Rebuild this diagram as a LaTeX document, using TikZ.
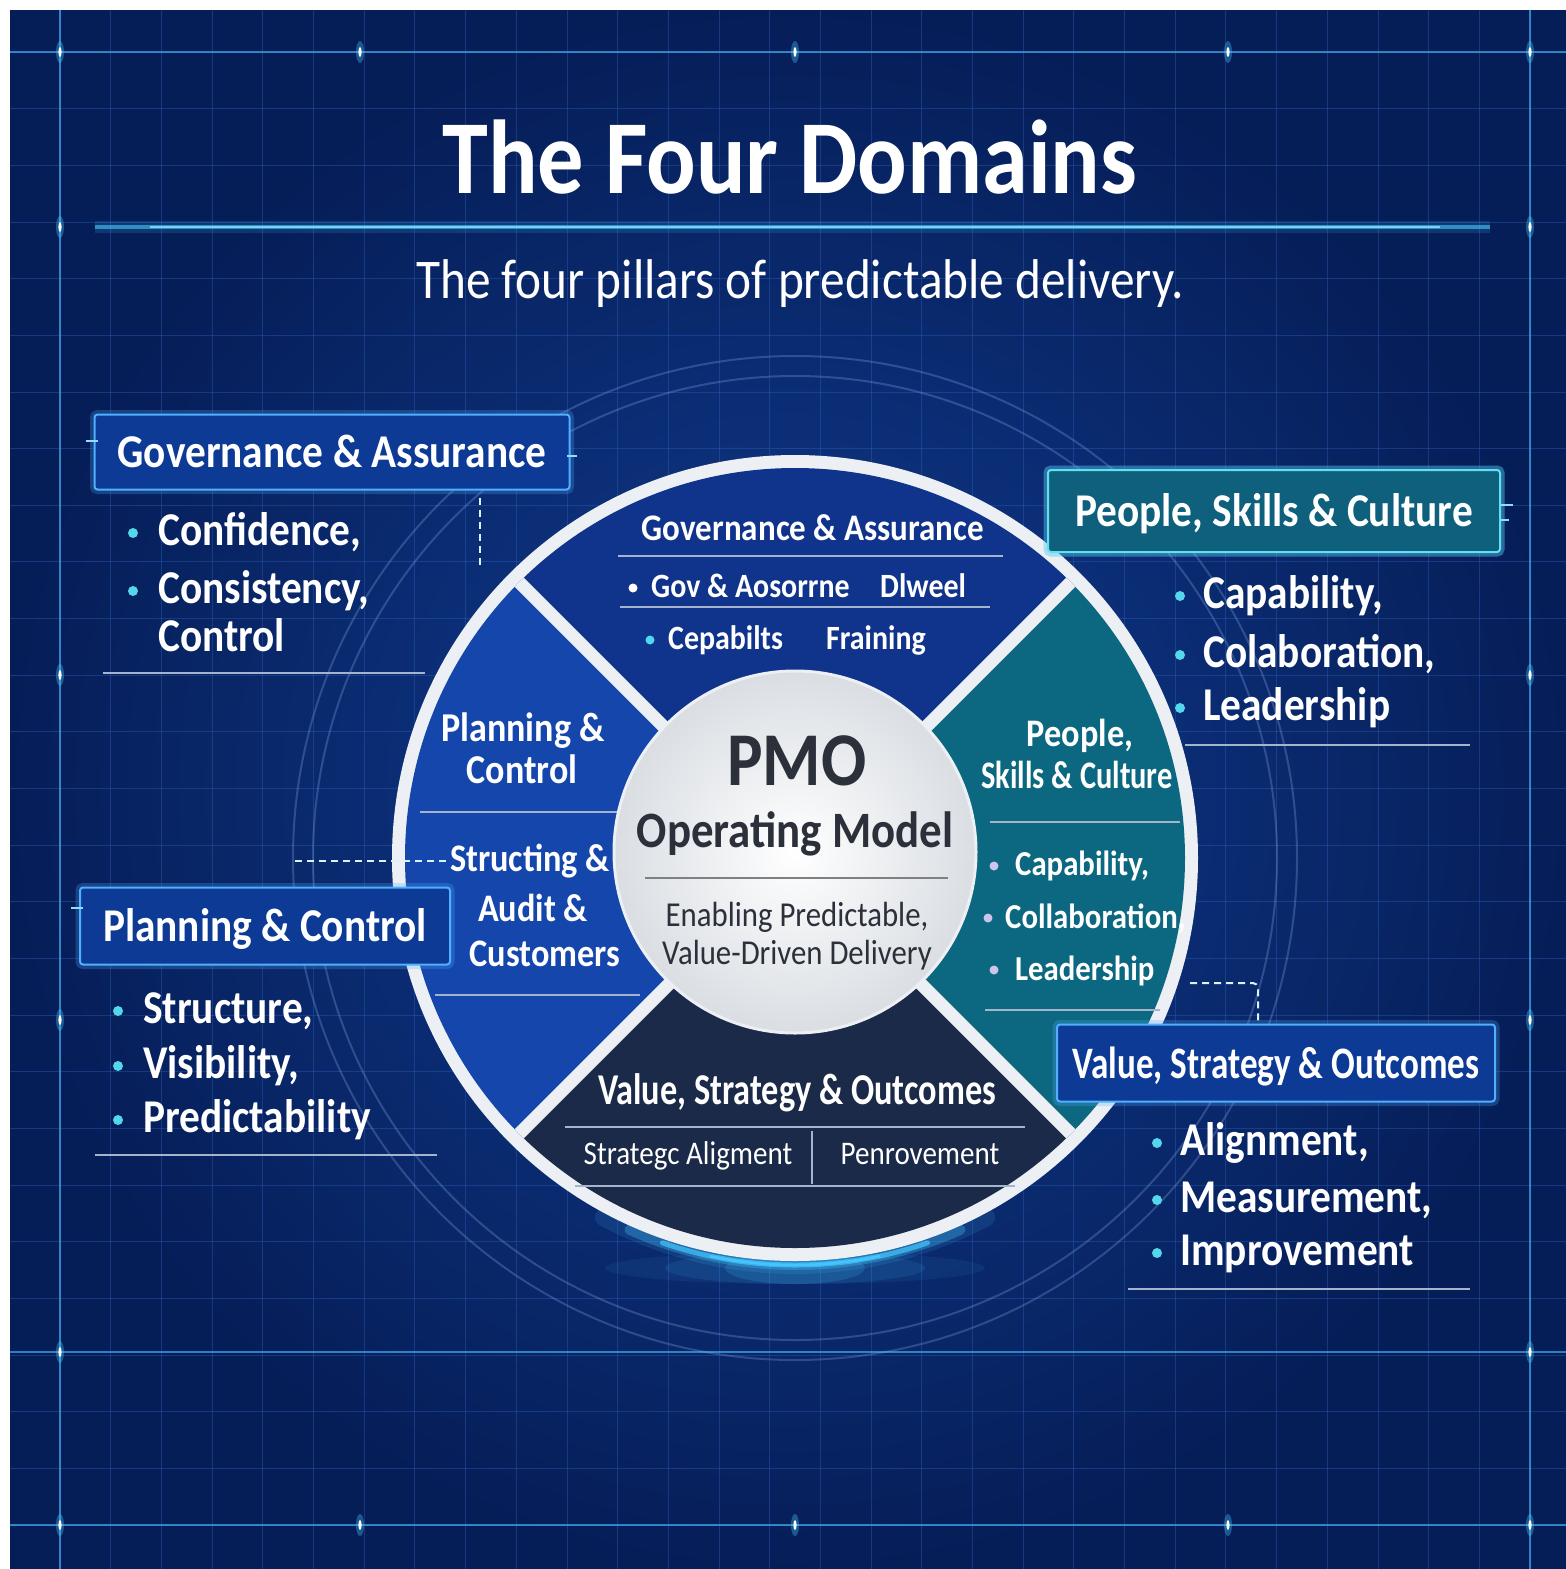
\documentclass[tikz,border=0pt]{standalone}
\usepackage{fontspec}
\setmainfont{Carlito}[FakeStretch=0.88]
\newfontfamily\condfont{Carlito}[FakeStretch=0.78]
\usepackage{tikz}
\usetikzlibrary{positioning,calc}
\definecolor{bgdark}   {RGB}{6,30,88}
\definecolor{bgmid}    {RGB}{16,60,145}
\definecolor{gridblue} {RGB}{50,105,200}
\definecolor{glowcyan} {RGB}{70,200,255}
\definecolor{segtop}   {RGB}{16,52,140}
\definecolor{segleft}  {RGB}{20,70,172}
\definecolor{segright} {RGB}{12,104,128}
\definecolor{segbottom}{RGB}{27,42,72}
\definecolor{ringwhite}{RGB}{236,239,243}
\definecolor{hubgray}  {RGB}{218,222,227}
\definecolor{hubtext}  {RGB}{44,48,58}
\definecolor{boxblue}  {RGB}{12,58,148}
\definecolor{boxteal}  {RGB}{14,96,124}
\definecolor{boxedge}  {RGB}{80,175,255}
\definecolor{tealedge} {RGB}{95,225,240}
\definecolor{dotcyan}  {RGB}{85,215,235}
\definecolor{dotlilac} {RGB}{205,196,235}
\definecolor{rulegray} {RGB}{165,180,205}
\newcommand{\pxsize}[2]{\fontsize{#1}{#2}\selectfont}

\begin{document}
\begin{tikzpicture}[
  x=1pt, y=-1pt,
  every node/.style={align=center, inner sep=0pt, text=white},
  titletxt/.style={font=\bfseries\pxsize{105}{110}},
  subtxt/.style={font=\pxsize{56}{60}},
  domainbox/.style={rectangle, rounded corners=3pt,
    draw=boxedge, fill=boxblue, line width=2pt,
    preaction={draw=boxedge, line width=9pt, draw opacity=0.25},
    text height=31pt, text depth=0pt,
    font=\bfseries\pxsize{47}{50}},
  tealbox/.style={domainbox, draw=tealedge, fill=boxteal,
    preaction={draw=tealedge, line width=9pt, draw opacity=0.25}},
  itemtxt/.style={anchor=base west, font=\bfseries\pxsize{47}{50}},
  segtxt/.style={anchor=base, font=\bfseries\pxsize{39}{42}},
  segitem/.style={anchor=base west, font=\bfseries\pxsize{35}{38}},
  subseg/.style={anchor=base west, font=\bfseries\pxsize{34}{36}},
  bulletdot/.style={circle, fill=dotcyan, minimum size=10pt},
  lilacdot/.style={circle, fill=dotlilac, minimum size=9pt},
  whitedot/.style={circle, fill=white, minimum size=9pt},
  hubcircle/.style={circle, minimum size=362pt, inner color=white,
    outer color=hubgray, draw=ringwhite, line width=3pt},
  gridfine/.style={draw=gridblue, line width=0.8pt, opacity=0.35},
  gridmajor/.style={draw=glowcyan!70!gridblue, line width=1.4pt, opacity=0.7},
  faintring/.style={draw=gridblue!60!white, line width=2pt, opacity=0.3},
  divline/.style={draw=ringwhite, line width=13pt},
  segrule/.style={draw=rulegray, line width=1.5pt},
  listrule/.style={draw=rulegray, line width=1.5pt},
  dashline/.style={draw=white!85!cyan, line width=2pt, dash pattern=on 7pt off 5pt},
  boxtick/.style={draw=glowcyan!60!white, line width=2pt},
  glowarc/.style={draw=glowcyan, line cap=round},
]
\useasboundingbox (0,0) rectangle (1566,1569);
\fill[white] (0,0) rectangle (1566,1569);

% Background and grid
\shade[inner color=bgmid, outer color=bgdark] (10,10) rectangle (1566,1569);
\foreach \gx in {0,...,29}
  \draw[gridfine] ({60+\gx*50.69},10) -- ({60+\gx*50.69},1569);
\foreach \gy in {0,...,26}
  \draw[gridfine] (10,{52+\gy*56.65}) -- (1566,{52+\gy*56.65});
\draw[gridmajor] (60,10) -- (60,1569);
\draw[gridmajor] (1530,10) -- (1530,1569);
\draw[gridmajor] (10,52) -- (1566,52);
\draw[gridmajor] (10,1352) -- (1566,1352);
\draw[gridmajor] (10,1525) -- (1566,1525);
\foreach \gx/\gy in {60/52, 360/52, 795/52, 1228/52, 1530/52, 60/227, 1530/227,
    60/675, 1530/675, 60/1020, 1530/1020, 60/1352, 1530/1352,
    60/1525, 360/1525, 795/1525, 1228/1525, 1530/1525} {
  \fill[glowcyan, opacity=0.35] (\gx,\gy) ellipse[x radius=4, y radius=11];
  \fill[white] (\gx,\gy) ellipse[x radius=1.6, y radius=5];
}

% Title
\node[titletxt, anchor=base] (title) at (790,193) {The Four Domains};
\draw[glowcyan, line width=12pt, opacity=0.15] (95,227) -- (1490,227);
\draw[glowcyan, line width=4pt, opacity=0.6] (95,227) -- (1490,227);
\draw[white!45!cyan, line width=1.5pt] (150,227) -- (1440,227);
\node[subtxt, anchor=base] (subtitle) at (800,298) {The four pillars of predictable delivery.};

% Faint rings round the wheel
\coordinate (ctr) at (795,858);
\draw[faintring] (ctr) circle[radius=482];
\draw[faintring] (ctr) circle[radius=502];

% Bottom glow
\foreach \r/\o in {190/0.07, 130/0.1, 70/0.16} {
  \fill[glowcyan, opacity=\o] (795,1268) ellipse[x radius=\r, y radius=16];
}
\foreach \a/\w/\o in {28/18/0.12, 24/10/0.3, 19/5/0.7, 12/2.5/0.9} {
  \draw[glowarc, line width=\w pt, opacity=\o]
    (ctr) ++({90-\a}:407) arc[start angle={90-\a}, end angle={90+\a}, radius=407];
}

% Wheel
\fill[ringwhite] (ctr) circle[radius=403];
\begin{scope}
  \clip (ctr) circle[radius=390];
  \fill[segtop]    (ctr) -- ++(-450,-450) -- ++(900,0) -- cycle;
  \fill[segleft]   (ctr) -- ++(-450,-450) -- ++(0,900) -- cycle;
  \fill[segright]  (ctr) -- ++(450,-450) -- ++(0,900) -- cycle;
  \fill[segbottom] (ctr) -- ++(-450,450) -- ++(900,0) -- cycle;
  \draw[divline] ($(ctr)+(-300,-300)$) -- ($(ctr)+(300,300)$);
  \draw[divline] ($(ctr)+(300,-300)$) -- ($(ctr)+(-300,300)$);
\end{scope}

% Top segment
\node[segtxt, font=\bfseries\pxsize{37.5}{40}] (govseg) at (813,540) {Governance \& Assurance};
\draw[segrule] (618,556) -- (1003,556);
\node[subseg] (govrow1a) at (651,597) {Gov \& Aosorrne};
\node[subseg] (govrow1b) at (880,597) {Dlweel};
\node[whitedot] (govrowdot1) at (633,588) {};
\draw[segrule] (620,607) -- (990,607);
\node[subseg] (govrow2a) at (668,649) {Cepabilts};
\node[subseg] (govrow2b) at (826,649) {Fraining};
\node[bulletdot, minimum size=9pt] (govrowdot2) at (650,640) {};

% Left segment
\node[segtxt, font=\bfseries\pxsize{41}{44}] (planseg1) at (523,741) {Planning \&};
\node[segtxt, font=\bfseries\pxsize{41}{44}] (planseg2) at (522,783) {Control};
\draw[segrule] (420,812) -- (620,812);
\node[segtxt, anchor=base west] (structseg) at (450,871) {Structing \&};
\node[segtxt] (auditseg) at (533,921) {Audit \&};
\node[segtxt] (custseg) at (545,966) {Customers};
\draw[segrule] (435,995) -- (640,995);

% Right segment
\node[segtxt] (peopleseg1) at (1080,746) {People,};
\node[segtxt, font=\condfont\bfseries\pxsize{39}{42}] (peopleseg2) at (1077,788) {Skills \& Culture};
\draw[segrule] (990,822) -- (1180,822);
\node[segitem] (capseg) at (1015,875) {Capability,};
\node[segitem] (collabseg) at (1005,928) {Collaboration,};
\node[segitem] (leadseg) at (1015,980) {Leadership};
\node[lilacdot] (capdot) at (994,866) {};
\node[lilacdot] (collabdot) at (988,918) {};
\node[lilacdot] (leaddot) at (994,970) {};
\draw[segrule] (985,1010) -- (1160,1010);

% Bottom segment
\node[segtxt, font=\condfont\bfseries\pxsize{44}{46}] (valueseg) at (797,1104) {Value, Strategy \& Outcomes};
\draw[segrule] (565,1127) -- (1025,1127);
\draw[segrule] (812,1131) -- (812,1184);
\node[segtxt, font=\pxsize{33}{35}] (stratseg) at (688,1164) {Strategc Aligment};
\node[segtxt, font=\pxsize{33}{35}] (penseg) at (920,1164) {Penrovement};
\draw[segrule] (575,1186) -- (1015,1186);

% Hub
\node[hubcircle] (hub) at (795,852) {};
\node[anchor=base, text=hubtext, font=\bfseries\pxsize{76}{80}] (pmotxt) at (797,785) {PMO};
\node[anchor=base, text=hubtext, font=\bfseries\pxsize{51}{56}] (opmodel) at (795,847) {Operating Model};
\draw[draw=gray, line width=2pt] (645,878) -- (948,878);
\node[anchor=base, text=hubtext, font=\pxsize{35}{38}] (enabletxt) at (797,926) {Enabling Predictable,};
\node[anchor=base, text=hubtext, font=\pxsize{35}{38}] (valuetxt) at (797,964) {Value-Driven Delivery};

% Governance & Assurance
\node[domainbox, minimum width=475pt, minimum height=75pt] (govbox) at (332,452) {Governance \& Assurance};
\draw[boxtick] (govbox.west) ++(-8,-11) -- ++(12,0);
\draw[boxtick] (govbox.east) ++(-4,4) -- ++(10,0);
\node[itemtxt] (govitem1) at (158,545) {Confidence,};
\node[itemtxt] (govitem2) at (158,603) {Consistency,};
\node[itemtxt] (govitem3) at (158,651) {Control};
\node[bulletdot] (govdot1) at ([xshift=-25pt,yshift=12pt]govitem1.base west) {};
\node[bulletdot] (govdot2) at ([xshift=-25pt,yshift=12pt]govitem2.base west) {};
\draw[listrule] (103,673) -- (425,673);
\coordinate (govend) at (480,565);
\draw[dashline] ([yshift=-7pt]govbox.south -| govend) -- (govend);

% Planning & Control
\node[domainbox, minimum width=370pt, minimum height=77pt] (planbox) at (265,926) {Planning \& Control};
\draw[boxtick] (planbox.west) ++(-8,-18) -- ++(12,0);
\node[itemtxt] (planitem1) at (143,1023) {Structure,};
\node[itemtxt] (planitem2) at (143,1078) {Visibility,};
\node[itemtxt] (planitem3) at (143,1132) {Predictability};
\node[bulletdot] (plandot1) at ([xshift=-25pt,yshift=12pt]planitem1.base west) {};
\node[bulletdot] (plandot2) at ([xshift=-25pt,yshift=12pt]planitem2.base west) {};
\node[bulletdot] (plandot3) at ([xshift=-25pt,yshift=12pt]planitem3.base west) {};
\draw[listrule] (95,1155) -- (437,1155);
\coordinate (plandash) at (295,852);
\draw[dashline] (structseg.west -| plandash) -- (structseg.west);

% People, Skills & Culture
\node[tealbox, minimum width=452pt, minimum height=82pt] (peoplebox) at (1274,511) {People, Skills \& Culture};
\draw[boxtick] (peoplebox.east) ++(0,-6) -- ++(12,0);
\draw[boxtick] (peoplebox.east) ++(0,9) -- ++(8,0);
\node[itemtxt] (peopleitem1) at (1203,608) {Capability,};
\node[itemtxt] (peopleitem2) at (1203,667) {Colaboration,};
\node[itemtxt] (peopleitem3) at (1203,720) {Leadership};
\node[bulletdot] (peopledot1) at ([xshift=-23pt,yshift=12pt]peopleitem1.base west) {};
\node[bulletdot] (peopledot2) at ([xshift=-23pt,yshift=12pt]peopleitem2.base west) {};
\node[bulletdot] (peopledot3) at ([xshift=-23pt,yshift=12pt]peopleitem3.base west) {};
\draw[listrule] (1185,745) -- (1470,745);

% Value, Strategy & Outcomes
\node[domainbox, minimum width=438pt, minimum height=77pt,
      font=\condfont\bfseries\pxsize{45}{48}] (valuebox) at (1276,1063) {Value, Strategy \& Outcomes};
\node[itemtxt] (valueitem1) at (1180,1155) {Alignment,};
\node[itemtxt] (valueitem2) at (1180,1212) {Measurement,};
\node[itemtxt] (valueitem3) at (1180,1265) {Improvement};
\node[bulletdot] (valuedot1) at ([xshift=-23pt,yshift=12pt]valueitem1.base west) {};
\node[bulletdot] (valuedot2) at ([xshift=-23pt,yshift=12pt]valueitem2.base west) {};
\node[bulletdot] (valuedot3) at ([xshift=-23pt,yshift=12pt]valueitem3.base west) {};
\draw[listrule] (1128,1289) -- (1470,1289);
\coordinate (valdash) at (1190,983);
\coordinate (valturn) at (1258,983);
\draw[dashline, rounded corners=5pt] (valdash) -| ([yshift=2pt]valuebox.north -| valturn);
\end{tikzpicture}
\end{document}
